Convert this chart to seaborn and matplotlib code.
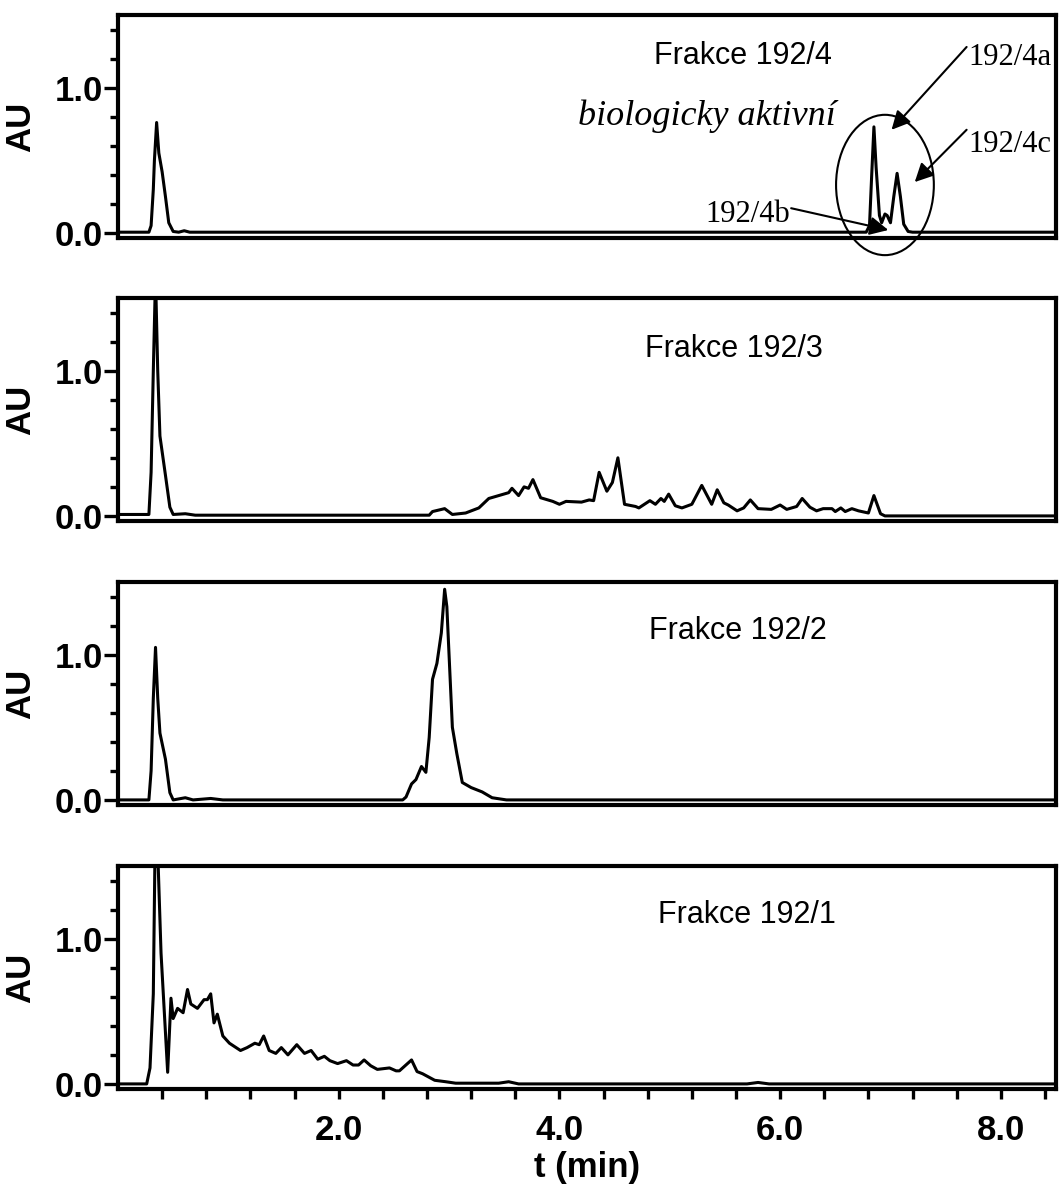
import numpy as np
import pandas as pd
import matplotlib
matplotlib.use("Agg")
import matplotlib.pyplot as plt
from matplotlib.patches import Ellipse
from matplotlib.ticker import FixedLocator, FixedFormatter
import seaborn as sns

sns.set_style("white")
plt.rcParams['font.family'] = ['Liberation Sans', 'DejaVu Sans']
plt.rcParams['text.color'] = 'black'
plt.rcParams['axes.labelcolor'] = 'black'

# ---------------- data ----------------
t_1924 = [0.0, 0.28, 0.30, 0.32, 0.33, 0.35, 0.37, 0.40, 0.43, 0.46, 0.50, 0.55, 0.60, 0.65, 1.0, 2.0,
          3.0, 4.0, 5.0, 6.0, 6.78, 6.81, 6.83, 6.85, 6.87, 6.90, 6.92, 6.95, 6.97, 7.00, 7.03,
          7.06, 7.09, 7.12, 7.16, 7.20, 8.5]
au_1924 = [0.005, 0.005, 0.05, 0.3, 0.5, 0.76, 0.55, 0.42, 0.25, 0.07, 0.01, 0.005, 0.015, 0.005, 0.005, 0.005,
           0.005, 0.005, 0.005, 0.005, 0.005, 0.05, 0.4, 0.73, 0.45, 0.12, 0.07, 0.13, 0.12, 0.07, 0.25,
           0.41, 0.25, 0.06, 0.01, 0.005, 0.005]

t_1923 = [0.0, 0.28, 0.30, 0.32, 0.34, 0.36, 0.38, 0.43, 0.47, 0.50, 0.61, 0.70, 1.5, 2.0, 2.5,
          2.82, 2.85, 2.96, 3.03, 3.15, 3.27, 3.36, 3.45, 3.54, 3.57, 3.63, 3.68, 3.72, 3.76, 3.83,
          3.94, 4.00, 4.06, 4.20, 4.27, 4.31, 4.36, 4.43, 4.48, 4.53, 4.59, 4.69, 4.72, 4.82, 4.87,
          4.92, 4.95, 4.99, 5.05, 5.11, 5.20, 5.29, 5.38, 5.43, 5.49, 5.53, 5.61, 5.67, 5.73, 5.80,
          5.92, 6.00, 6.06, 6.15, 6.20, 6.27, 6.33, 6.39, 6.47, 6.50, 6.55, 6.59, 6.65, 6.71, 6.80,
          6.85, 6.91, 6.95, 8.5]
au_1923 = [0.01, 0.01, 0.3, 1.0, 1.65, 1.0, 0.55, 0.28, 0.06, 0.01, 0.015, 0.005, 0.005, 0.005, 0.005,
           0.005, 0.03, 0.05, 0.01, 0.02, 0.055, 0.12, 0.14, 0.16, 0.19, 0.14, 0.2, 0.19, 0.25, 0.125,
           0.1, 0.08, 0.1, 0.095, 0.11, 0.105, 0.3, 0.17, 0.23, 0.4, 0.08, 0.065, 0.055, 0.105, 0.08,
           0.12, 0.1, 0.15, 0.07, 0.055, 0.08, 0.21, 0.08, 0.18, 0.09, 0.075, 0.035, 0.055, 0.11, 0.05,
           0.045, 0.075, 0.045, 0.065, 0.12, 0.06, 0.035, 0.05, 0.05, 0.03, 0.055, 0.03, 0.05, 0.035, 0.02,
           0.14, 0.015, 0.0, 0.0]

t_1922 = [0.0, 0.28, 0.30, 0.32, 0.34, 0.36, 0.38, 0.43, 0.47, 0.50, 0.61, 0.68, 0.84, 0.95, 2.58,
          2.61, 2.66, 2.70, 2.75, 2.79, 2.82, 2.85, 2.89, 2.93, 2.96, 2.98, 3.03, 3.07, 3.12, 3.20, 3.30,
          3.39, 3.52, 8.5]
au_1922 = [0.0, 0.0, 0.2, 0.7, 1.05, 0.7, 0.46, 0.28, 0.05, 0.0, 0.015, 0.0, 0.01, 0.0, 0.0,
           0.02, 0.11, 0.14, 0.23, 0.19, 0.43, 0.83, 0.94, 1.15, 1.45, 1.33, 0.5, 0.32, 0.12, 0.085, 0.055,
           0.015, 0.0, 0.0]

t_1921 = [0.0, 0.26, 0.29, 0.32, 0.34, 0.36, 0.39, 0.45, 0.48, 0.50, 0.54, 0.59, 0.63, 0.66, 0.72,
          0.78, 0.81, 0.84, 0.87, 0.90, 0.95, 1.01, 1.11, 1.17, 1.24, 1.28, 1.32, 1.37, 1.43, 1.48,
          1.54, 1.62, 1.69, 1.75, 1.81, 1.87, 1.92, 1.99, 2.07, 2.13, 2.18, 2.23, 2.29, 2.35, 2.46,
          2.52, 2.55, 2.66, 2.71, 2.76, 2.87, 2.97, 3.06, 3.45, 3.54, 3.63, 5.70, 5.80, 5.90, 8.5]
au_1921 = [0.0, 0.0, 0.11, 0.62, 1.9, 1.6, 0.9, 0.08, 0.59, 0.45, 0.52, 0.49, 0.65, 0.55, 0.52,
           0.58, 0.58, 0.62, 0.42, 0.48, 0.33, 0.28, 0.23, 0.25, 0.28, 0.27, 0.33, 0.23, 0.21, 0.25,
           0.2, 0.27, 0.21, 0.23, 0.17, 0.19, 0.16, 0.14, 0.16, 0.13, 0.13, 0.165, 0.125, 0.1, 0.11,
           0.09, 0.09, 0.165, 0.085, 0.07, 0.025, 0.015, 0.005, 0.005, 0.015, 0.0, 0.0, 0.01, 0.0, 0.0]

panel_titles = ["Frakce 192/4", "Frakce 192/3", "Frakce 192/2", "Frakce 192/1"]
x_major = [2.0, 4.0, 6.0, 8.0]
x_major_labels = ["2.0", "4.0", "6.0", "8.0"]
y_major = [0.0, 1.0]
y_major_labels = ["0.0", "1.0"]

series = [(t_1924, au_1924), (t_1923, au_1923), (t_1922, au_1922), (t_1921, au_1921)]

# ---------------- figure ----------------
W, H = 1059, 1192
fig = plt.figure(figsize=(W / 100, H / 100), dpi=100)

left = 118 / W
width = (1056 - 118) / W
tops = [15, 298, 582, 866]
ph = 223
axes = []
for i, top in enumerate(tops):
    bottom = 1 - (top + ph) / H
    ax = fig.add_axes([left, bottom, width, ph / H])
    axes.append(ax)

title_pos = [(5.66, 1.22), (5.58, 1.15), (5.62, 1.16), (5.70, 1.16)]

for i, ax in enumerate(axes):
    t, au = series[i]
    df = pd.DataFrame({"t": t, "AU": au})
    sns.lineplot(data=df, x="t", y="AU", ax=ax, color="black", linewidth=2.2,
                 estimator=None, sort=False)
    ax.set_xlim(0, 8.5)
    ax.set_ylim(-0.035, 1.5)
    for sp in ax.spines.values():
        sp.set_linewidth(3.0)
        sp.set_color("black")
        sp.set_visible(True)
    ax.yaxis.set_major_locator(FixedLocator(y_major))
    ax.yaxis.set_major_formatter(FixedFormatter(y_major_labels))
    ax.yaxis.set_minor_locator(FixedLocator([0.2, 0.4, 0.6, 0.8, 1.2, 1.4]))
    ax.tick_params(axis="y", which="major", direction="out", length=10, width=2.4,
                   left=True, labelsize=25, pad=1, colors="black")
    ax.tick_params(axis="y", which="minor", direction="out", length=6, width=2.4, left=True,
                   colors="black")
    for lab in ax.get_yticklabels():
        lab.set_fontweight("bold")
    ax.set_ylabel("AU", fontsize=25, fontweight="bold", color="black")
    ax.yaxis.set_label_coords(-0.086, 0.5)
    ax.text(*title_pos[i], panel_titles[i], fontsize=22, ha="center", va="center", color="black")
    if i < 3:
        ax.set_xticks([])
        ax.set_xlabel("")
    else:
        ax.xaxis.set_major_locator(FixedLocator(x_major))
        ax.xaxis.set_major_formatter(FixedFormatter(x_major_labels))
        minors = [round(0.4 * k, 1) for k in range(1, 22)]
        ax.xaxis.set_minor_locator(FixedLocator([m for m in minors if m not in x_major]))
        ax.tick_params(axis="x", which="both", direction="out", length=7, width=2.4,
                       bottom=True, labelsize=25, pad=11, colors="black")
        for lab in ax.get_xticklabels():
            lab.set_fontweight("bold")
        ax.set_xlabel("t (min)", fontsize=25, fontweight="bold", labelpad=3, color="black")

# annotations on top panel
ax = axes[0]
serif = ['Liberation Serif', 'DejaVu Serif']
ax.text(5.34, 0.80, "biologicky aktivní", fontsize=26, style="italic", family=serif,
        ha="center", va="center", color="black")
ax.text(8.08, 1.21, "192/4a", fontsize=22, family=serif, ha="center", va="center", color="black")
ax.text(8.08, 0.61, "192/4c", fontsize=22, family=serif, ha="center", va="center", color="black")
ax.text(5.71, 0.13, "192/4b", fontsize=22, family=serif, ha="center", va="center", color="black")
ap = dict(arrowstyle="-|>", color="black", lw=1.5, mutation_scale=28, shrinkA=0, shrinkB=0)
ax.annotate("", xy=(7.01, 0.71), xytext=(7.69, 1.28), arrowprops=ap, annotation_clip=False)
ax.annotate("", xy=(7.22, 0.35), xytext=(7.69, 0.71), arrowprops=ap, annotation_clip=False)
ax.annotate("", xy=(6.98, 0.02), xytext=(6.10, 0.17), arrowprops=ap, annotation_clip=False)
ax.add_patch(Ellipse((6.95, 0.33), width=0.886, height=0.966, fill=False, lw=1.5,
                     edgecolor="black", clip_on=False))

fig.savefig("out.png", dpi=100, facecolor="white")
